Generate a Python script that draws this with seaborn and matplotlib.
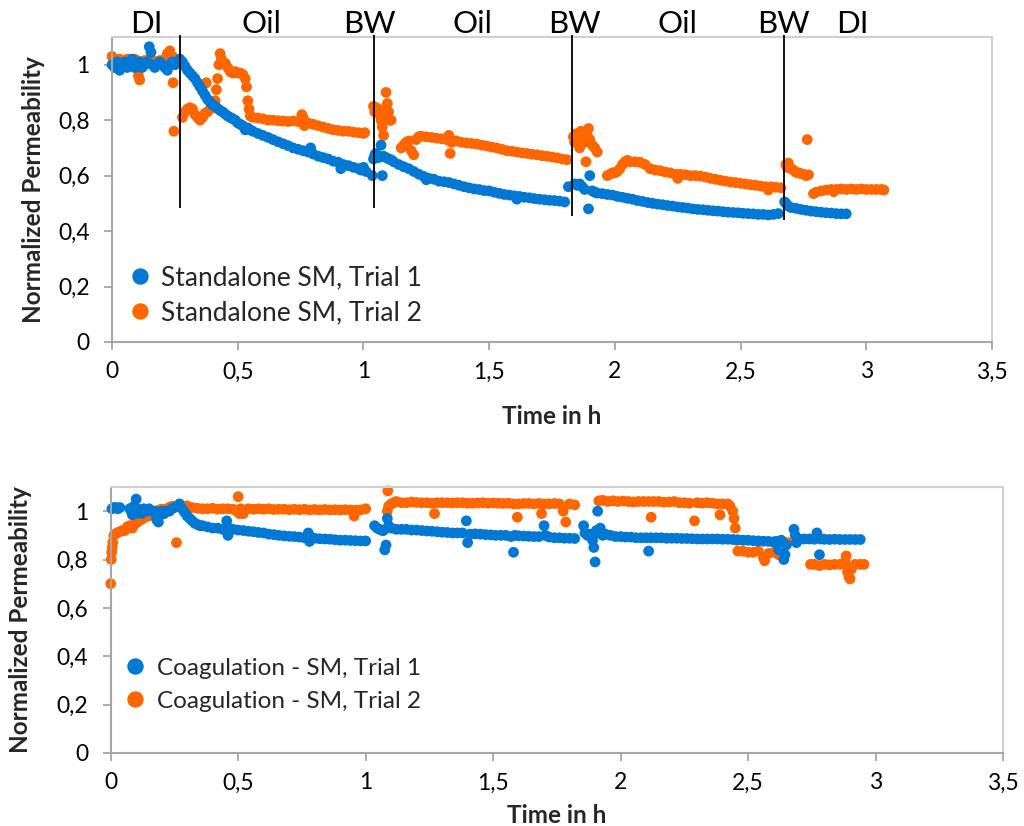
import pandas as pd
import matplotlib
matplotlib.use("Agg")
import matplotlib.pyplot as plt
import matplotlib.transforms as mtransforms
from matplotlib.lines import Line2D
from matplotlib.ticker import FuncFormatter, MultipleLocator
import seaborn as sns

# ------------------------------------------------------------
# Data: (time in h, normalized permeability)
# ------------------------------------------------------------
sa_trial1 = [
    (0.000, 1.00), (0.010, 0.99), (0.020, 1.01), (0.030, 0.98), (0.040, 1.00), (0.050, 1.01),
    (0.060, 0.99), (0.070, 1.00), (0.080, 1.02), (0.090, 0.99), (0.100, 1.00), (0.110, 1.01),
    (0.120, 0.99), (0.130, 1.00), (0.140, 1.01), (0.148, 1.065), (0.155, 1.045), (0.160, 1.00),
    (0.170, 0.99), (0.180, 1.00), (0.190, 1.01), (0.200, 1.00), (0.210, 0.99), (0.220, 0.98),
    (0.230, 1.00), (0.240, 1.01), (0.250, 1.00), (0.260, 1.01), (0.270, 1.02),
    (0.280, 1.01), (0.290, 0.995), (0.300, 0.98), (0.310, 0.97), (0.320, 0.96), (0.330, 0.95),
    (0.340, 0.935), (0.350, 0.92), (0.360, 0.905), (0.370, 0.89), (0.380, 0.875), (0.390, 0.865),
    (0.400, 0.855), (0.410, 0.85), (0.420, 0.842), (0.430, 0.835), (0.440, 0.83), (0.450, 0.822),
    (0.460, 0.815), (0.470, 0.81), (0.480, 0.805), (0.490, 0.80), (0.500, 0.79), (0.510, 0.785),
    (0.520, 0.78), (0.530, 0.765), (0.540, 0.772), (0.550, 0.765), (0.560, 0.76), (0.580, 0.752),
    (0.600, 0.745), (0.620, 0.738), (0.640, 0.73), (0.660, 0.722), (0.680, 0.715), (0.700, 0.708),
    (0.720, 0.70), (0.740, 0.695), (0.760, 0.69), (0.780, 0.685), (0.790, 0.70), (0.800, 0.678),
    (0.820, 0.67), (0.840, 0.665), (0.860, 0.66), (0.880, 0.652), (0.900, 0.648), (0.910, 0.625),
    (0.920, 0.64), (0.940, 0.636), (0.960, 0.63), (0.980, 0.625), (0.990, 0.62), (1.000, 0.63),
    (1.010, 0.615),
    (1.035, 0.60), (1.040, 0.66), (1.045, 0.675), (1.050, 0.68), (1.060, 0.665), (1.070, 0.71),
    (1.075, 0.60), (1.080, 0.67), (1.090, 0.665), (1.100, 0.66), (1.110, 0.657), (1.120, 0.65),
    (1.140, 0.64), (1.160, 0.632), (1.180, 0.625), (1.200, 0.615), (1.220, 0.605), (1.240, 0.597),
    (1.250, 0.585), (1.260, 0.59), (1.280, 0.587), (1.300, 0.58), (1.320, 0.578), (1.340, 0.575),
    (1.360, 0.57), (1.380, 0.565), (1.400, 0.56), (1.420, 0.556), (1.440, 0.552), (1.460, 0.55),
    (1.480, 0.546), (1.500, 0.545), (1.520, 0.54), (1.540, 0.536), (1.560, 0.532), (1.580, 0.53),
    (1.600, 0.527), (1.610, 0.515), (1.620, 0.525), (1.640, 0.522), (1.660, 0.52), (1.680, 0.517),
    (1.700, 0.515), (1.720, 0.513), (1.740, 0.511), (1.760, 0.51), (1.780, 0.508), (1.800, 0.505),
    (1.815, 0.56),
    (1.840, 0.57), (1.850, 0.565), (1.860, 0.57), (1.870, 0.56), (1.880, 0.55), (1.895, 0.48),
    (1.900, 0.60), (1.910, 0.545), (1.920, 0.54), (1.930, 0.537), (1.950, 0.535), (1.970, 0.532),
    (1.990, 0.53), (2.010, 0.525), (2.030, 0.522), (2.050, 0.518), (2.070, 0.515), (2.090, 0.51),
    (2.110, 0.507), (2.130, 0.503), (2.150, 0.50), (2.170, 0.497), (2.190, 0.495), (2.210, 0.492),
    (2.230, 0.49), (2.250, 0.487), (2.270, 0.485), (2.290, 0.483), (2.310, 0.48), (2.330, 0.478),
    (2.350, 0.477), (2.370, 0.475), (2.390, 0.473), (2.410, 0.472), (2.430, 0.47), (2.450, 0.468),
    (2.470, 0.467), (2.490, 0.466), (2.510, 0.464), (2.530, 0.463), (2.550, 0.462), (2.570, 0.46),
    (2.590, 0.46), (2.610, 0.458), (2.630, 0.46), (2.650, 0.463),
    (2.675, 0.505), (2.680, 0.50), (2.690, 0.49), (2.700, 0.485), (2.720, 0.482), (2.740, 0.478),
    (2.760, 0.475), (2.780, 0.472), (2.800, 0.47), (2.820, 0.468), (2.840, 0.466), (2.860, 0.465),
    (2.880, 0.463), (2.900, 0.462), (2.920, 0.462),
]

sa_trial2 = [
    (0.000, 1.03), (0.010, 1.02), (0.020, 1.01), (0.030, 1.02), (0.040, 1.01), (0.050, 1.015),
    (0.060, 1.02), (0.070, 1.02), (0.080, 1.015), (0.090, 1.02), (0.100, 1.015), (0.105, 0.96),
    (0.110, 0.945), (0.120, 1.01), (0.130, 1.015), (0.140, 1.01), (0.150, 1.02), (0.160, 1.015),
    (0.170, 1.01), (0.180, 1.01), (0.190, 1.015), (0.200, 1.01), (0.210, 1.02), (0.220, 1.04),
    (0.230, 1.05), (0.240, 1.03), (0.243, 0.935), (0.246, 0.76), (0.255, 1.02), (0.265, 1.01),
    (0.280, 0.81), (0.290, 0.83), (0.300, 0.84), (0.310, 0.845), (0.320, 0.84), (0.330, 0.82),
    (0.340, 0.81), (0.350, 0.80), (0.360, 0.81), (0.370, 0.825), (0.375, 0.935), (0.380, 0.83),
    (0.390, 0.84), (0.400, 0.85), (0.410, 0.87), (0.415, 0.91), (0.420, 0.95), (0.425, 1.00),
    (0.430, 1.04), (0.435, 1.02), (0.440, 1.01), (0.450, 1.005), (0.460, 0.99), (0.470, 0.975),
    (0.480, 0.97), (0.490, 0.975), (0.500, 0.97), (0.510, 0.97), (0.520, 0.965), (0.530, 0.95),
    (0.535, 0.92), (0.540, 0.87), (0.545, 0.84), (0.550, 0.815), (0.560, 0.81), (0.580, 0.808),
    (0.600, 0.805), (0.620, 0.80), (0.640, 0.80), (0.660, 0.798), (0.680, 0.797), (0.700, 0.795),
    (0.720, 0.797), (0.740, 0.795), (0.755, 0.82), (0.760, 0.81), (0.765, 0.78), (0.780, 0.79),
    (0.800, 0.785), (0.820, 0.78), (0.840, 0.775), (0.860, 0.77), (0.880, 0.765), (0.900, 0.763),
    (0.920, 0.76), (0.940, 0.76), (0.960, 0.757), (0.980, 0.755), (1.000, 0.752), (1.005, 0.755),
    (1.040, 0.85), (1.045, 0.83), (1.050, 0.845), (1.060, 0.84), (1.065, 0.82), (1.070, 0.80),
    (1.075, 0.775), (1.080, 0.745), (1.085, 0.83), (1.090, 0.90), (1.095, 0.86), (1.100, 0.83),
    (1.105, 0.80), (1.110, 0.80),
    (1.150, 0.70), (1.160, 0.71), (1.170, 0.72), (1.180, 0.725), (1.190, 0.69), (1.200, 0.675),
    (1.210, 0.73), (1.220, 0.74), (1.230, 0.742), (1.250, 0.74), (1.270, 0.738), (1.290, 0.735),
    (1.310, 0.733), (1.330, 0.73), (1.340, 0.745), (1.345, 0.68), (1.350, 0.72), (1.370, 0.725),
    (1.390, 0.72), (1.410, 0.718), (1.430, 0.716), (1.450, 0.714), (1.470, 0.71), (1.490, 0.707),
    (1.510, 0.703), (1.530, 0.70), (1.550, 0.695), (1.570, 0.69), (1.590, 0.688), (1.610, 0.685),
    (1.630, 0.682), (1.650, 0.68), (1.670, 0.677), (1.690, 0.675), (1.710, 0.672), (1.730, 0.67),
    (1.750, 0.667), (1.770, 0.664), (1.790, 0.66), (1.810, 0.657),
    (1.835, 0.74), (1.840, 0.72), (1.845, 0.75), (1.850, 0.73), (1.860, 0.70), (1.865, 0.76),
    (1.870, 0.74), (1.880, 0.72), (1.885, 0.65), (1.890, 0.745), (1.895, 0.77), (1.900, 0.73),
    (1.910, 0.71), (1.920, 0.70), (1.930, 0.685),
    (1.970, 0.60), (1.980, 0.605), (1.990, 0.61), (2.000, 0.61), (2.010, 0.615), (2.020, 0.625),
    (2.030, 0.64), (2.040, 0.65), (2.050, 0.655), (2.060, 0.65), (2.080, 0.65), (2.100, 0.648),
    (2.120, 0.64), (2.140, 0.625), (2.160, 0.62), (2.180, 0.618), (2.200, 0.613), (2.220, 0.61),
    (2.240, 0.605), (2.250, 0.59), (2.260, 0.605), (2.280, 0.603), (2.300, 0.60), (2.320, 0.60),
    (2.340, 0.598), (2.360, 0.595), (2.380, 0.59), (2.400, 0.587), (2.420, 0.583), (2.440, 0.58),
    (2.460, 0.577), (2.480, 0.575), (2.500, 0.572), (2.520, 0.57), (2.540, 0.567), (2.560, 0.565),
    (2.580, 0.562), (2.600, 0.56), (2.610, 0.548), (2.620, 0.56), (2.640, 0.558), (2.660, 0.556),
    (2.680, 0.64), (2.685, 0.63), (2.690, 0.645), (2.700, 0.625), (2.710, 0.62), (2.720, 0.612),
    (2.730, 0.61), (2.740, 0.607), (2.750, 0.605), (2.760, 0.60), (2.765, 0.73), (2.770, 0.603),
    (2.790, 0.535), (2.800, 0.54), (2.820, 0.545), (2.840, 0.548), (2.860, 0.55), (2.870, 0.542),
    (2.880, 0.55), (2.900, 0.552), (2.920, 0.55), (2.940, 0.552), (2.960, 0.55), (2.980, 0.552),
    (3.000, 0.55), (3.020, 0.55), (3.040, 0.55), (3.060, 0.55), (3.070, 0.548),
]

coag_trial1 = [
    (0.005, 1.01), (0.012, 1.015), (0.020, 1.015), (0.028, 1.01), (0.036, 1.015),
    (0.075, 1.01), (0.080, 1.00), (0.085, 0.985), (0.090, 1.02), (0.095, 0.99), (0.100, 1.05),
    (0.105, 1.01), (0.110, 1.00), (0.120, 0.99), (0.130, 1.01), (0.140, 1.00), (0.150, 1.01),
    (0.160, 1.00), (0.170, 1.00), (0.180, 0.965), (0.187, 0.955), (0.190, 0.98), (0.200, 1.00),
    (0.210, 0.99), (0.220, 1.00), (0.230, 1.00), (0.240, 1.01), (0.250, 1.015), (0.260, 1.02),
    (0.270, 1.03), (0.280, 1.01), (0.290, 0.995), (0.300, 0.98), (0.310, 0.97), (0.320, 0.96),
    (0.330, 0.95), (0.340, 0.945), (0.350, 0.94), (0.360, 0.94), (0.380, 0.935), (0.400, 0.93),
    (0.420, 0.93), (0.440, 0.925), (0.455, 0.96), (0.460, 0.90), (0.465, 0.93), (0.480, 0.925),
    (0.500, 0.922), (0.520, 0.92), (0.540, 0.917), (0.560, 0.915), (0.580, 0.912), (0.600, 0.91),
    (0.620, 0.905), (0.640, 0.903), (0.660, 0.90), (0.680, 0.898), (0.700, 0.896), (0.720, 0.895),
    (0.740, 0.893), (0.760, 0.89), (0.775, 0.91), (0.780, 0.875), (0.790, 0.89), (0.800, 0.888),
    (0.820, 0.886), (0.840, 0.885), (0.860, 0.884), (0.880, 0.882), (0.900, 0.88), (0.920, 0.88),
    (0.940, 0.879), (0.960, 0.878), (0.980, 0.877), (1.000, 0.877),
    (1.035, 0.94), (1.045, 0.93), (1.055, 0.925), (1.065, 0.92), (1.070, 0.92), (1.075, 0.84),
    (1.080, 0.86), (1.085, 0.97), (1.090, 0.94), (1.100, 0.93), (1.120, 0.925), (1.140, 0.925),
    (1.160, 0.925), (1.180, 0.922), (1.200, 0.922), (1.220, 0.92), (1.240, 0.918), (1.260, 0.917),
    (1.280, 0.915), (1.300, 0.913), (1.320, 0.912), (1.340, 0.91), (1.360, 0.91), (1.380, 0.91),
    (1.395, 0.96), (1.400, 0.87), (1.410, 0.905), (1.430, 0.906), (1.450, 0.905), (1.470, 0.903),
    (1.490, 0.902), (1.510, 0.90), (1.530, 0.90), (1.550, 0.90), (1.570, 0.895), (1.580, 0.83),
    (1.585, 0.90), (1.600, 0.898), (1.620, 0.897), (1.640, 0.896), (1.660, 0.895), (1.680, 0.895),
    (1.700, 0.94), (1.705, 0.90), (1.720, 0.893), (1.740, 0.89), (1.760, 0.89), (1.780, 0.888),
    (1.800, 0.888), (1.820, 0.887),
    (1.855, 0.94), (1.860, 0.91), (1.870, 0.90), (1.880, 0.905), (1.890, 0.88), (1.895, 0.85),
    (1.900, 0.79), (1.905, 0.92), (1.910, 1.00), (1.915, 0.91), (1.920, 0.93), (1.930, 0.90),
    (1.940, 0.905), (1.960, 0.90), (1.980, 0.895), (2.000, 0.895), (2.020, 0.893), (2.040, 0.893),
    (2.060, 0.89), (2.080, 0.89), (2.100, 0.89), (2.110, 0.835), (2.120, 0.89), (2.140, 0.89),
    (2.160, 0.89), (2.180, 0.888), (2.200, 0.888), (2.220, 0.888), (2.240, 0.887), (2.260, 0.887),
    (2.280, 0.886), (2.300, 0.885), (2.320, 0.885), (2.340, 0.885), (2.360, 0.885), (2.380, 0.885),
    (2.400, 0.884), (2.420, 0.884), (2.440, 0.883), (2.460, 0.882), (2.480, 0.88), (2.500, 0.88),
    (2.520, 0.878), (2.540, 0.877), (2.560, 0.876), (2.580, 0.875), (2.600, 0.873), (2.610, 0.875),
    (2.620, 0.84), (2.630, 0.88), (2.640, 0.80), (2.645, 0.82), (2.650, 0.86),
    (2.680, 0.925), (2.685, 0.90), (2.690, 0.87), (2.700, 0.885), (2.720, 0.885), (2.740, 0.885),
    (2.760, 0.884), (2.770, 0.91), (2.780, 0.82), (2.785, 0.885), (2.800, 0.884), (2.820, 0.883),
    (2.840, 0.884), (2.860, 0.883), (2.880, 0.883), (2.900, 0.883), (2.920, 0.883), (2.940, 0.883),
]

coag_trial2 = [
    (0.000, 0.70), (0.002, 0.80), (0.004, 0.83), (0.006, 0.85), (0.008, 0.87), (0.012, 0.90),
    (0.017, 0.905), (0.025, 0.91), (0.035, 0.915), (0.045, 0.92), (0.056, 0.92), (0.065, 0.935),
    (0.075, 0.94), (0.085, 0.93), (0.095, 0.946), (0.105, 0.955), (0.120, 0.965), (0.135, 0.975),
    (0.147, 0.98), (0.160, 0.99), (0.175, 1.00), (0.190, 1.005), (0.200, 1.008), (0.210, 1.00),
    (0.220, 1.01), (0.230, 1.015), (0.240, 1.02), (0.250, 1.02), (0.258, 0.87), (0.265, 1.02),
    (0.280, 1.02), (0.300, 1.022), (0.320, 1.015), (0.340, 1.012), (0.360, 1.01), (0.380, 1.01),
    (0.400, 1.012), (0.420, 1.008), (0.440, 1.01), (0.460, 1.01), (0.480, 1.008), (0.495, 1.00),
    (0.500, 1.06), (0.505, 0.99), (0.510, 1.01), (0.520, 0.99), (0.540, 1.01), (0.560, 1.008),
    (0.580, 1.01), (0.600, 1.008), (0.620, 1.01), (0.640, 1.007), (0.660, 1.008), (0.680, 1.008),
    (0.700, 1.006), (0.720, 1.008), (0.740, 1.006), (0.760, 1.008), (0.780, 1.005), (0.800, 1.007),
    (0.820, 1.005), (0.840, 1.007), (0.860, 1.005), (0.880, 1.006), (0.900, 1.005), (0.920, 1.006),
    (0.940, 1.005), (0.955, 0.98), (0.960, 1.004), (0.980, 1.005), (1.000, 1.01),
    (1.085, 1.00), (1.087, 1.084), (1.090, 1.02), (1.100, 1.03), (1.110, 1.035), (1.120, 1.04),
    (1.140, 1.035), (1.160, 1.035), (1.180, 1.038), (1.200, 1.036), (1.220, 1.035), (1.240, 1.035),
    (1.260, 1.033), (1.270, 0.99), (1.280, 1.035), (1.300, 1.035), (1.320, 1.035), (1.340, 1.034),
    (1.360, 1.035), (1.380, 1.035), (1.400, 1.033), (1.420, 1.033), (1.440, 1.034), (1.460, 1.035),
    (1.480, 1.033), (1.500, 1.034), (1.520, 1.033), (1.540, 1.032), (1.560, 1.033), (1.580, 1.03),
    (1.595, 0.975), (1.600, 1.03), (1.620, 1.032), (1.640, 1.032), (1.660, 1.03), (1.680, 1.032),
    (1.690, 0.99), (1.700, 1.03), (1.720, 1.03), (1.740, 1.032), (1.760, 1.03), (1.775, 1.00),
    (1.785, 0.955), (1.800, 1.03), (1.820, 1.026),
    (1.915, 1.043), (1.930, 1.045), (1.950, 1.04), (1.970, 1.043), (1.990, 1.04), (2.010, 1.042),
    (2.030, 1.04), (2.050, 1.038), (2.070, 1.04), (2.090, 1.04), (2.110, 1.04), (2.120, 0.975),
    (2.130, 1.04), (2.150, 1.04), (2.170, 1.037), (2.190, 1.038), (2.210, 1.04), (2.230, 1.035),
    (2.250, 1.035), (2.270, 1.033), (2.290, 0.96), (2.300, 1.035), (2.320, 1.033), (2.340, 1.035),
    (2.360, 1.033), (2.380, 1.03), (2.390, 0.985), (2.400, 1.03), (2.420, 1.03), (2.430, 1.02),
    (2.440, 1.00), (2.445, 0.97), (2.450, 0.93), (2.455, 0.88), (2.460, 0.835), (2.480, 0.835),
    (2.500, 0.83), (2.520, 0.83), (2.540, 0.835), (2.560, 0.81), (2.565, 0.795), (2.580, 0.825),
    (2.600, 0.83), (2.620, 0.82), (2.640, 0.825), (2.645, 0.87), (2.655, 0.87),
    (2.745, 0.78), (2.760, 0.78), (2.780, 0.775), (2.800, 0.78), (2.820, 0.778), (2.840, 0.78),
    (2.860, 0.78), (2.880, 0.79), (2.885, 0.815), (2.890, 0.75), (2.895, 0.73), (2.900, 0.72),
    (2.905, 0.76), (2.920, 0.78), (2.940, 0.78), (2.955, 0.78),
]

top_names = ["Standalone SM, Trial 1", "Standalone SM, Trial 2"]
bottom_names = ["Coagulation - SM, Trial 1", "Coagulation - SM, Trial 2"]

# phase changes in the standalone run (time in h, lower end of the marker line)
phase_switch_t = [0.27, 1.042, 1.829, 2.674]
phase_switch_low = [0.484, 0.484, 0.455, 0.44]
phase_names = ["DI", "Oil", "BW", "Oil", "BW", "Oil", "BW", "DI"]
phase_name_t = [0.135, 0.596, 1.022, 1.432, 1.838, 2.247, 2.669, 2.943]

BLUE = "#0078D4"
ORANGE = "#FF6600"

sns.set_theme(style="white")
plt.rcParams["font.family"] = ["Lato", "DejaVu Sans"]


def to_df(pairs, name):
    return pd.DataFrame(pairs, columns=["Time", "Perm"]).assign(Series=name)


def comma(v, pos):
    return f"{v:g}".replace(".", ",")


def draw_panel(ax, trial1, trial2, names, leg, ylabel_x, xlabel_y):
    # trial 2 first so that trial 1 is drawn on top, as in the original
    df = pd.concat([to_df(trial2, names[1]), to_df(trial1, names[0])], ignore_index=True)
    sns.scatterplot(data=df, x="Time", y="Perm", hue="Series", hue_order=names,
                    palette=[BLUE, ORANGE], s=60, linewidth=0, ax=ax, legend=False)
    ax.collections[0].set_clip_on(False)

    ax.set_xlim(0, 3.5)
    ax.set_ylim(0, 1.1)
    ax.xaxis.set_major_locator(MultipleLocator(0.5))
    ax.yaxis.set_major_locator(MultipleLocator(0.2))
    ax.xaxis.set_major_formatter(FuncFormatter(comma))
    ax.yaxis.set_major_formatter(FuncFormatter(comma))
    ax.tick_params(axis="both", direction="out", length=6, width=1.3, color="#A6A6A6",
                   labelsize=16.5, labelcolor="black", bottom=True, left=True)
    ax.tick_params(axis="x", pad=8)
    ax.tick_params(axis="y", pad=10)
    for side in ["left", "bottom"]:
        ax.spines[side].set_color("#A6A6A6")
        ax.spines[side].set_linewidth(1.5)
    for side in ["top", "right"]:
        ax.spines[side].set_color("#D0D0D0")
        ax.spines[side].set_linewidth(1.5)

    ax.set_xlabel("Time in h", fontsize=17.5, fontweight="bold")
    ax.set_ylabel("Normalized Permeability", fontsize=17.5, fontweight="bold")
    ax.xaxis.set_label_coords(0.5, xlabel_y)
    ax.yaxis.set_label_coords(ylabel_x, 0.5)

    handles = [Line2D([], [], ls="", marker="o", ms=10.8, color=c) for c in (BLUE, ORANGE)]
    ax.legend(handles, names, loc="lower left", bbox_to_anchor=leg["anchor"],
              frameon=False, fontsize=leg["size"], handlelength=0.8,
              handletextpad=leg["pad"], labelspacing=leg["spacing"],
              borderpad=0, borderaxespad=0)


fig = plt.figure(figsize=(10.24, 8.26), dpi=100)
ax_top = fig.add_axes([0.1094, 0.5860, 0.8594, 0.3692])
ax_bot = fig.add_axes([0.1081, 0.0884, 0.8714, 0.3220])

draw_panel(ax_top, sa_trial1, sa_trial2, top_names,
           dict(anchor=(0.0199, 0.054), size=19, pad=0.39, spacing=0.40), -0.076, -0.207)
draw_panel(ax_bot, coag_trial1, coag_trial2, bottom_names,
           dict(anchor=(0.0164, 0.155), size=17.5, pad=0.49, spacing=0.49), -0.088, -0.19)

# phase markers and names above the standalone panel
ax_top.vlines(phase_switch_t, phase_switch_low, 1.107, colors="black", linewidth=1.3,
              clip_on=False, zorder=5)
trans = mtransforms.blended_transform_factory(ax_top.transData, ax_top.transAxes)
for name, t in zip(phase_names, phase_name_t):
    ax_top.text(t, 1.013, name, transform=trans, ha="center", va="baseline",
                fontsize=22.5, color="black")

fig.savefig("out.png", dpi=100)
